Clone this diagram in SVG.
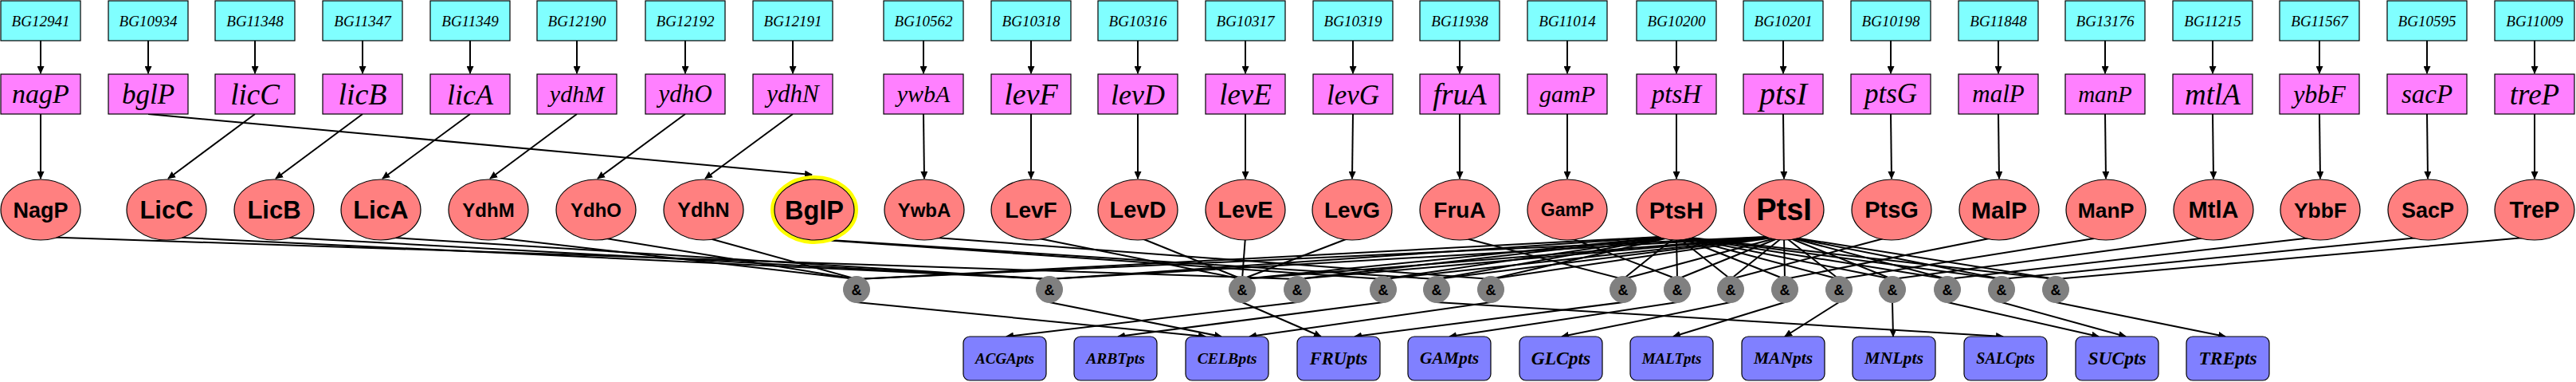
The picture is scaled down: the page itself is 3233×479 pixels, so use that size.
<svg xmlns="http://www.w3.org/2000/svg" width="3233" height="479" viewBox="0 0 3233 479">
<defs>
<marker id="ah" viewBox="0 0 10 9" refX="9" refY="4.5" markerWidth="10" markerHeight="9" markerUnits="userSpaceOnUse" orient="auto"><path d="M0,0 L10,4.5 L0,9 z" fill="#000"/></marker>
</defs>
<style>
.bg{fill:#80ffff;stroke:#000;stroke-width:1.2}
.gn{fill:#ff80ff;stroke:#000;stroke-width:1.2}
.pr{fill:#ff8080;stroke:#000;stroke-width:1.2}
.and{fill:#808080;stroke:#808080;stroke-width:1}
.pw{fill:#8080ff;stroke:#000;stroke-width:1.2}
.tbg{font-family:"Liberation Serif",serif;font-style:italic;font-size:19px;text-anchor:middle;fill:#000}
.tgn{font-family:"Liberation Serif",serif;font-style:italic;text-anchor:middle;fill:#000}
.tpr{font-family:"Liberation Sans",sans-serif;font-weight:bold;text-anchor:middle;fill:#000}
.tand{font-family:"Liberation Sans",sans-serif;font-weight:bold;font-size:18px;text-anchor:middle;fill:#000}
.tpw{font-family:"Liberation Serif",serif;font-style:italic;font-weight:bold;text-anchor:middle;fill:#000}
#connectors line{stroke:#000;stroke-width:2;fill:none}
#connectors .a{marker-end:url(#ah)}
</style>
<rect width="3233" height="479" fill="#fff"/>
<g id="connectors">
<!-- BG to gene -->
<line class="a" x1="51" y1="51" x2="51" y2="92"/>
<line class="a" x1="186" y1="51" x2="186" y2="92"/>
<line class="a" x1="320" y1="51" x2="320" y2="92"/>
<line class="a" x1="455" y1="51" x2="455" y2="92"/>
<line class="a" x1="590" y1="51" x2="590" y2="92"/>
<line class="a" x1="724" y1="51" x2="724" y2="92"/>
<line class="a" x1="860" y1="51" x2="860" y2="92"/>
<line class="a" x1="995" y1="51" x2="995" y2="92"/>
<line class="a" x1="1159" y1="51" x2="1159" y2="92"/>
<line class="a" x1="1294" y1="51" x2="1294" y2="92"/>
<line class="a" x1="1428" y1="51" x2="1428" y2="92"/>
<line class="a" x1="1563" y1="51" x2="1563" y2="92"/>
<line class="a" x1="1698" y1="51" x2="1698" y2="92"/>
<line class="a" x1="1832" y1="51" x2="1832" y2="92"/>
<line class="a" x1="1967" y1="51" x2="1967" y2="92"/>
<line class="a" x1="2104" y1="51" x2="2104" y2="92"/>
<line class="a" x1="2238" y1="51" x2="2238" y2="92"/>
<line class="a" x1="2373" y1="51" x2="2373" y2="92"/>
<line class="a" x1="2508" y1="51" x2="2508" y2="92"/>
<line class="a" x1="2642" y1="51" x2="2642" y2="92"/>
<line class="a" x1="2777" y1="51" x2="2777" y2="92"/>
<line class="a" x1="2911" y1="51" x2="2911" y2="92"/>
<line class="a" x1="3046" y1="51" x2="3046" y2="92"/>
<line class="a" x1="3181" y1="51" x2="3181" y2="92"/>
<!-- gene to protein -->
<line class="a" x1="51" y1="143" x2="51" y2="224"/>
<line class="a" x1="186" y1="143" x2="1019" y2="219"/>
<line class="a" x1="320" y1="143" x2="211" y2="224"/>
<line class="a" x1="455" y1="143" x2="346" y2="224"/>
<line class="a" x1="590" y1="143" x2="480" y2="224"/>
<line class="a" x1="724" y1="143" x2="615" y2="224"/>
<line class="a" x1="860" y1="143" x2="750" y2="224"/>
<line class="a" x1="995" y1="143" x2="885" y2="224"/>
<line class="a" x1="1159" y1="143" x2="1160" y2="224"/>
<line class="a" x1="1294" y1="143" x2="1294" y2="224"/>
<line class="a" x1="1428" y1="143" x2="1428" y2="224"/>
<line class="a" x1="1563" y1="143" x2="1563" y2="224"/>
<line class="a" x1="1698" y1="143" x2="1697" y2="224"/>
<line class="a" x1="1832" y1="143" x2="1832" y2="224"/>
<line class="a" x1="1967" y1="143" x2="1967" y2="224"/>
<line class="a" x1="2104" y1="143" x2="2104" y2="224"/>
<line class="a" x1="2238" y1="143" x2="2239" y2="224"/>
<line class="a" x1="2373" y1="143" x2="2374" y2="224"/>
<line class="a" x1="2508" y1="143" x2="2509" y2="224"/>
<line class="a" x1="2642" y1="143" x2="2643" y2="224"/>
<line class="a" x1="2777" y1="143" x2="2778" y2="224"/>
<line class="a" x1="2911" y1="143" x2="2912" y2="224"/>
<line class="a" x1="3046" y1="143" x2="3047" y2="224"/>
<line class="a" x1="3181" y1="143" x2="3181" y2="224"/>
<!-- protein to & -->
<line x1="613" y1="297" x2="1075" y2="350"/>
<line x1="748" y1="297" x2="1075" y2="350"/>
<line x1="883" y1="297" x2="1075" y2="350"/>
<line x1="2083" y1="297" x2="1075" y2="350"/>
<line x1="2216" y1="297" x2="1075" y2="350"/>
<line x1="209" y1="297" x2="1317" y2="350"/>
<line x1="344" y1="297" x2="1317" y2="350"/>
<line x1="478" y1="297" x2="1317" y2="350"/>
<line x1="2088" y1="297" x2="1317" y2="350"/>
<line x1="2221" y1="297" x2="1317" y2="350"/>
<line x1="1294" y1="297" x2="1559" y2="350"/>
<line x1="1428" y1="297" x2="1559" y2="350"/>
<line x1="1563" y1="297" x2="1559" y2="350"/>
<line x1="1697" y1="297" x2="1559" y2="350"/>
<line x1="2093" y1="297" x2="1559" y2="350"/>
<line x1="2225" y1="297" x2="1559" y2="350"/>
<line x1="51" y1="297" x2="1628" y2="350"/>
<line x1="2095" y1="297" x2="1628" y2="350"/>
<line x1="2227" y1="297" x2="1628" y2="350"/>
<line x1="1020" y1="300" x2="1736" y2="350"/>
<line x1="2097" y1="297" x2="1736" y2="350"/>
<line x1="2229" y1="297" x2="1736" y2="350"/>
<line x1="1026" y1="300" x2="1803" y2="350"/>
<line x1="2098" y1="297" x2="1803" y2="350"/>
<line x1="2230" y1="297" x2="1803" y2="350"/>
<line x1="1161" y1="297" x2="1871" y2="350"/>
<line x1="2099" y1="297" x2="1871" y2="350"/>
<line x1="2232" y1="297" x2="1871" y2="350"/>
<line x1="1832" y1="297" x2="2037" y2="350"/>
<line x1="2103" y1="297" x2="2037" y2="350"/>
<line x1="2235" y1="297" x2="2037" y2="350"/>
<line x1="1967" y1="297" x2="2105" y2="350"/>
<line x1="2104" y1="297" x2="2105" y2="350"/>
<line x1="2236" y1="297" x2="2105" y2="350"/>
<line x1="2372" y1="297" x2="2172" y2="350"/>
<line x1="2105" y1="297" x2="2172" y2="350"/>
<line x1="2238" y1="297" x2="2172" y2="350"/>
<line x1="2507" y1="297" x2="2240" y2="350"/>
<line x1="2107" y1="297" x2="2240" y2="350"/>
<line x1="2239" y1="297" x2="2240" y2="350"/>
<line x1="2641" y1="297" x2="2308" y2="350"/>
<line x1="2108" y1="297" x2="2308" y2="350"/>
<line x1="2240" y1="297" x2="2308" y2="350"/>
<line x1="2776" y1="297" x2="2375" y2="350"/>
<line x1="2109" y1="297" x2="2375" y2="350"/>
<line x1="2242" y1="297" x2="2375" y2="350"/>
<line x1="2910" y1="297" x2="2444" y2="350"/>
<line x1="2111" y1="297" x2="2444" y2="350"/>
<line x1="2243" y1="297" x2="2444" y2="350"/>
<line x1="3045" y1="297" x2="2512" y2="350"/>
<line x1="2112" y1="297" x2="2512" y2="350"/>
<line x1="2244" y1="297" x2="2512" y2="350"/>
<line x1="3179" y1="297" x2="2580" y2="350"/>
<line x1="2113" y1="297" x2="2580" y2="350"/>
<line x1="2246" y1="297" x2="2580" y2="350"/>
<!-- & to pathway -->
<line class="a" x1="1075" y1="379" x2="1513" y2="422"/>
<line class="a" x1="1317" y1="379" x2="1533" y2="422"/>
<line class="a" x1="1559" y1="379" x2="1658" y2="422"/>
<line class="a" x1="1628" y1="379" x2="1263" y2="422"/>
<line class="a" x1="1736" y1="379" x2="1403" y2="422"/>
<line class="a" x1="1803" y1="379" x2="2514" y2="422"/>
<line class="a" x1="1871" y1="379" x2="1568" y2="422"/>
<line class="a" x1="2037" y1="379" x2="1700" y2="422"/>
<line class="a" x1="2105" y1="379" x2="1819" y2="422"/>
<line class="a" x1="2172" y1="379" x2="1960" y2="422"/>
<line class="a" x1="2240" y1="379" x2="2100" y2="422"/>
<line class="a" x1="2308" y1="379" x2="2240" y2="422"/>
<line class="a" x1="2375" y1="379" x2="2376" y2="422"/>
<line class="a" x1="2444" y1="379" x2="2634" y2="422"/>
<line class="a" x1="2512" y1="379" x2="2668" y2="422"/>
<line class="a" x1="2580" y1="379" x2="2793" y2="422"/>
</g>
<!-- BG nodes -->
<g id="BG12941"><rect class="bg" x="1" y="1" width="100" height="50"/><text class="tbg" x="51" y="32.5">BG12941</text></g>
<g id="BG10934"><rect class="bg" x="136" y="1" width="100" height="50"/><text class="tbg" x="186" y="32.5">BG10934</text></g>
<g id="BG11348"><rect class="bg" x="270" y="1" width="100" height="50"/><text class="tbg" x="320" y="32.5">BG11348</text></g>
<g id="BG11347"><rect class="bg" x="405" y="1" width="100" height="50"/><text class="tbg" x="455" y="32.5">BG11347</text></g>
<g id="BG11349"><rect class="bg" x="540" y="1" width="100" height="50"/><text class="tbg" x="590" y="32.5">BG11349</text></g>
<g id="BG12190"><rect class="bg" x="674" y="1" width="100" height="50"/><text class="tbg" x="724" y="32.5">BG12190</text></g>
<g id="BG12192"><rect class="bg" x="810" y="1" width="100" height="50"/><text class="tbg" x="860" y="32.5">BG12192</text></g>
<g id="BG12191"><rect class="bg" x="945" y="1" width="100" height="50"/><text class="tbg" x="995" y="32.5">BG12191</text></g>
<g id="BG10562"><rect class="bg" x="1109" y="1" width="100" height="50"/><text class="tbg" x="1159" y="32.5">BG10562</text></g>
<g id="BG10318"><rect class="bg" x="1244" y="1" width="100" height="50"/><text class="tbg" x="1294" y="32.5">BG10318</text></g>
<g id="BG10316"><rect class="bg" x="1378" y="1" width="100" height="50"/><text class="tbg" x="1428" y="32.5">BG10316</text></g>
<g id="BG10317"><rect class="bg" x="1513" y="1" width="100" height="50"/><text class="tbg" x="1563" y="32.5">BG10317</text></g>
<g id="BG10319"><rect class="bg" x="1648" y="1" width="100" height="50"/><text class="tbg" x="1698" y="32.5">BG10319</text></g>
<g id="BG11938"><rect class="bg" x="1782" y="1" width="100" height="50"/><text class="tbg" x="1832" y="32.5">BG11938</text></g>
<g id="BG11014"><rect class="bg" x="1917" y="1" width="100" height="50"/><text class="tbg" x="1967" y="32.5">BG11014</text></g>
<g id="BG10200"><rect class="bg" x="2054" y="1" width="100" height="50"/><text class="tbg" x="2104" y="32.5">BG10200</text></g>
<g id="BG10201"><rect class="bg" x="2188" y="1" width="100" height="50"/><text class="tbg" x="2238" y="32.5">BG10201</text></g>
<g id="BG10198"><rect class="bg" x="2323" y="1" width="100" height="50"/><text class="tbg" x="2373" y="32.5">BG10198</text></g>
<g id="BG11848"><rect class="bg" x="2458" y="1" width="100" height="50"/><text class="tbg" x="2508" y="32.5">BG11848</text></g>
<g id="BG13176"><rect class="bg" x="2592" y="1" width="100" height="50"/><text class="tbg" x="2642" y="32.5">BG13176</text></g>
<g id="BG11215"><rect class="bg" x="2727" y="1" width="100" height="50"/><text class="tbg" x="2777" y="32.5">BG11215</text></g>
<g id="BG11567"><rect class="bg" x="2861" y="1" width="100" height="50"/><text class="tbg" x="2911" y="32.5">BG11567</text></g>
<g id="BG10595"><rect class="bg" x="2996" y="1" width="100" height="50"/><text class="tbg" x="3046" y="32.5">BG10595</text></g>
<g id="BG11009"><rect class="bg" x="3131" y="1" width="100" height="50"/><text class="tbg" x="3181" y="32.5">BG11009</text></g>
<!-- gene nodes -->
<g id="nagP"><rect class="gn" x="1" y="93" width="100" height="50"/><text class="tgn" x="51" y="129" font-size="34">nagP</text></g>
<g id="bglP"><rect class="gn" x="136" y="93" width="100" height="50"/><text class="tgn" x="186" y="129.5" font-size="35">bglP</text></g>
<g id="licC"><rect class="gn" x="270" y="93" width="100" height="50"/><text class="tgn" x="320" y="130.5" font-size="37">licC</text></g>
<g id="licB"><rect class="gn" x="405" y="93" width="100" height="50"/><text class="tgn" x="455" y="130.5" font-size="38">licB</text></g>
<g id="licA"><rect class="gn" x="540" y="93" width="100" height="50"/><text class="tgn" x="590" y="130.5" font-size="36">licA</text></g>
<g id="ydhM"><rect class="gn" x="674" y="93" width="100" height="50"/><text class="tgn" x="724" y="127.5" font-size="30">ydhM</text></g>
<g id="ydhO"><rect class="gn" x="810" y="93" width="100" height="50"/><text class="tgn" x="860" y="127.5" font-size="31">ydhO</text></g>
<g id="ydhN"><rect class="gn" x="945" y="93" width="100" height="50"/><text class="tgn" x="995" y="127.5" font-size="31">ydhN</text></g>
<g id="ywbA"><rect class="gn" x="1109" y="93" width="100" height="50"/><text class="tgn" x="1159" y="127.5" font-size="30">ywbA</text></g>
<g id="levF"><rect class="gn" x="1244" y="93" width="100" height="50"/><text class="tgn" x="1294" y="130.5" font-size="38">levF</text></g>
<g id="levD"><rect class="gn" x="1378" y="93" width="100" height="50"/><text class="tgn" x="1428" y="130.5" font-size="36">levD</text></g>
<g id="levE"><rect class="gn" x="1513" y="93" width="100" height="50"/><text class="tgn" x="1563" y="130.5" font-size="37">levE</text></g>
<g id="levG"><rect class="gn" x="1648" y="93" width="100" height="50"/><text class="tgn" x="1698" y="130.5" font-size="35">levG</text></g>
<g id="fruA"><rect class="gn" x="1782" y="93" width="100" height="50"/><text class="tgn" x="1832" y="130.5" font-size="38">fruA</text></g>
<g id="gamP"><rect class="gn" x="1917" y="93" width="100" height="50"/><text class="tgn" x="1967" y="127.5" font-size="30">gamP</text></g>
<g id="ptsH"><rect class="gn" x="2054" y="93" width="100" height="50"/><text class="tgn" x="2104" y="128.5" font-size="33">ptsH</text></g>
<g id="ptsI"><rect class="gn" x="2188" y="93" width="100" height="50"/><text class="tgn" x="2238" y="131" font-size="40">ptsI</text></g>
<g id="ptsG"><rect class="gn" x="2323" y="93" width="100" height="50"/><text class="tgn" x="2373" y="129" font-size="35">ptsG</text></g>
<g id="malP"><rect class="gn" x="2458" y="93" width="100" height="50"/><text class="tgn" x="2508" y="128" font-size="31">malP</text></g>
<g id="manP"><rect class="gn" x="2592" y="93" width="100" height="50"/><text class="tgn" x="2642" y="127.5" font-size="29">manP</text></g>
<g id="mtlA"><rect class="gn" x="2727" y="93" width="100" height="50"/><text class="tgn" x="2777" y="130.5" font-size="37">mtlA</text></g>
<g id="ybbF"><rect class="gn" x="2861" y="93" width="100" height="50"/><text class="tgn" x="2911" y="128.5" font-size="32">ybbF</text></g>
<g id="sacP"><rect class="gn" x="2996" y="93" width="100" height="50"/><text class="tgn" x="3046" y="129" font-size="33">sacP</text></g>
<g id="treP"><rect class="gn" x="3131" y="93" width="100" height="50"/><text class="tgn" x="3181" y="130.5" font-size="37">treP</text></g>
<!-- protein nodes -->
<g id="NagP"><ellipse class="pr" cx="51" cy="263" rx="50" ry="38"/><text class="tpr" x="51" y="272.5" font-size="27">NagP</text></g>
<g id="LicC"><ellipse class="pr" cx="209" cy="263" rx="50" ry="38"/><text class="tpr" x="209" y="274" font-size="31">LicC</text></g>
<g id="LicB"><ellipse class="pr" cx="344" cy="263" rx="50" ry="38"/><text class="tpr" x="344" y="274" font-size="31">LicB</text></g>
<g id="LicA"><ellipse class="pr" cx="478" cy="263" rx="50" ry="38"/><text class="tpr" x="478" y="274" font-size="32">LicA</text></g>
<g id="YdhM"><ellipse class="pr" cx="613" cy="263" rx="50" ry="38"/><text class="tpr" x="613" y="271.5" font-size="24">YdhM</text></g>
<g id="YdhO"><ellipse class="pr" cx="748" cy="263" rx="50" ry="38"/><text class="tpr" x="748" y="271.5" font-size="24">YdhO</text></g>
<g id="YdhN"><ellipse class="pr" cx="883" cy="263" rx="50" ry="38"/><text class="tpr" x="883" y="271.5" font-size="25">YdhN</text></g>
<g id="BglP"><ellipse cx="1022" cy="263" rx="52.5" ry="40.5" fill="none" stroke="#ffff00" stroke-width="5"/><ellipse class="pr" cx="1022" cy="263" rx="50" ry="38"/><text class="tpr" x="1022" y="274.5" font-size="32.5">BglP</text></g>
<g id="YwbA"><ellipse class="pr" cx="1160" cy="263" rx="50" ry="38"/><text class="tpr" x="1160" y="271.5" font-size="24">YwbA</text></g>
<g id="LevF"><ellipse class="pr" cx="1294" cy="263" rx="50" ry="38"/><text class="tpr" x="1294" y="273" font-size="28">LevF</text></g>
<g id="LevD"><ellipse class="pr" cx="1428" cy="263" rx="50" ry="38"/><text class="tpr" x="1428" y="273" font-size="29">LevD</text></g>
<g id="LevE"><ellipse class="pr" cx="1563" cy="263" rx="50" ry="38"/><text class="tpr" x="1563" y="273" font-size="29">LevE</text></g>
<g id="LevG"><ellipse class="pr" cx="1697" cy="263" rx="50" ry="38"/><text class="tpr" x="1697" y="273" font-size="28">LevG</text></g>
<g id="FruA"><ellipse class="pr" cx="1832" cy="263" rx="50" ry="38"/><text class="tpr" x="1832" y="273" font-size="28">FruA</text></g>
<g id="GamP"><ellipse class="pr" cx="1967" cy="263" rx="50" ry="38"/><text class="tpr" x="1967" y="271" font-size="23">GamP</text></g>
<g id="PtsH"><ellipse class="pr" cx="2104" cy="263" rx="50" ry="38"/><text class="tpr" x="2104" y="273.5" font-size="30">PtsH</text></g>
<g id="PtsI"><ellipse class="pr" cx="2239" cy="263" rx="50" ry="38"/><text class="tpr" x="2239" y="276" font-size="38">PtsI</text></g>
<g id="PtsG"><ellipse class="pr" cx="2374" cy="263" rx="50" ry="38"/><text class="tpr" x="2374" y="273" font-size="29">PtsG</text></g>
<g id="MalP"><ellipse class="pr" cx="2509" cy="263" rx="50" ry="38"/><text class="tpr" x="2509" y="273.5" font-size="30">MalP</text></g>
<g id="ManP"><ellipse class="pr" cx="2643" cy="263" rx="50" ry="38"/><text class="tpr" x="2643" y="272.5" font-size="26.5">ManP</text></g>
<g id="MtlA"><ellipse class="pr" cx="2778" cy="263" rx="50" ry="38"/><text class="tpr" x="2778" y="273" font-size="29">MtlA</text></g>
<g id="YbbF"><ellipse class="pr" cx="2912" cy="263" rx="50" ry="38"/><text class="tpr" x="2912" y="272.5" font-size="26.5">YbbF</text></g>
<g id="SacP"><ellipse class="pr" cx="3047" cy="263" rx="50" ry="38"/><text class="tpr" x="3047" y="272.5" font-size="27">SacP</text></g>
<g id="TreP"><ellipse class="pr" cx="3181" cy="263" rx="50" ry="38"/><text class="tpr" x="3181" y="273" font-size="29">TreP</text></g>
<!-- & nodes -->
<g id="and1"><circle class="and" cx="1075" cy="363" r="16.5"/><text class="tand" x="1075" y="369.5">&amp;</text></g>
<g id="and2"><circle class="and" cx="1317" cy="363" r="16.5"/><text class="tand" x="1317" y="369.5">&amp;</text></g>
<g id="and3"><circle class="and" cx="1559" cy="363" r="16.5"/><text class="tand" x="1559" y="369.5">&amp;</text></g>
<g id="and4"><circle class="and" cx="1628" cy="363" r="16.5"/><text class="tand" x="1628" y="369.5">&amp;</text></g>
<g id="and5"><circle class="and" cx="1736" cy="363" r="16.5"/><text class="tand" x="1736" y="369.5">&amp;</text></g>
<g id="and6"><circle class="and" cx="1803" cy="363" r="16.5"/><text class="tand" x="1803" y="369.5">&amp;</text></g>
<g id="and7"><circle class="and" cx="1871" cy="363" r="16.5"/><text class="tand" x="1871" y="369.5">&amp;</text></g>
<g id="and8"><circle class="and" cx="2037" cy="363" r="16.5"/><text class="tand" x="2037" y="369.5">&amp;</text></g>
<g id="and9"><circle class="and" cx="2105" cy="363" r="16.5"/><text class="tand" x="2105" y="369.5">&amp;</text></g>
<g id="and10"><circle class="and" cx="2172" cy="363" r="16.5"/><text class="tand" x="2172" y="369.5">&amp;</text></g>
<g id="and11"><circle class="and" cx="2240" cy="363" r="16.5"/><text class="tand" x="2240" y="369.5">&amp;</text></g>
<g id="and12"><circle class="and" cx="2308" cy="363" r="16.5"/><text class="tand" x="2308" y="369.5">&amp;</text></g>
<g id="and13"><circle class="and" cx="2375" cy="363" r="16.5"/><text class="tand" x="2375" y="369.5">&amp;</text></g>
<g id="and14"><circle class="and" cx="2444" cy="363" r="16.5"/><text class="tand" x="2444" y="369.5">&amp;</text></g>
<g id="and15"><circle class="and" cx="2512" cy="363" r="16.5"/><text class="tand" x="2512" y="369.5">&amp;</text></g>
<g id="and16"><circle class="and" cx="2580" cy="363" r="16.5"/><text class="tand" x="2580" y="369.5">&amp;</text></g>
<!-- pathway nodes -->
<g id="ACGApts"><rect class="pw" x="1209" y="422" width="104" height="55" rx="8"/><text class="tpw" x="1261" y="455.5" font-size="19">ACGApts</text></g>
<g id="ARBTpts"><rect class="pw" x="1348" y="422" width="104" height="55" rx="8"/><text class="tpw" x="1400" y="455.5" font-size="19.5">ARBTpts</text></g>
<g id="CELBpts"><rect class="pw" x="1488" y="422" width="104" height="55" rx="8"/><text class="tpw" x="1540" y="455.5" font-size="19.8">CELBpts</text></g>
<g id="FRUpts"><rect class="pw" x="1628" y="422" width="104" height="55" rx="8"/><text class="tpw" x="1680" y="456.5" font-size="22.5">FRUpts</text></g>
<g id="GAMpts"><rect class="pw" x="1767" y="422" width="104" height="55" rx="8"/><text class="tpw" x="1819" y="456" font-size="21.5">GAMpts</text></g>
<g id="GLCpts"><rect class="pw" x="1907" y="422" width="104" height="55" rx="8"/><text class="tpw" x="1959" y="456.5" font-size="23.5">GLCpts</text></g>
<g id="MALTpts"><rect class="pw" x="2046" y="422" width="104" height="55" rx="8"/><text class="tpw" x="2098" y="455.5" font-size="19">MALTpts</text></g>
<g id="MANpts"><rect class="pw" x="2186" y="422" width="104" height="55" rx="8"/><text class="tpw" x="2238" y="456" font-size="21.5">MANpts</text></g>
<g id="MNLpts"><rect class="pw" x="2325" y="422" width="104" height="55" rx="8"/><text class="tpw" x="2377" y="456" font-size="21.8">MNLpts</text></g>
<g id="SALCpts"><rect class="pw" x="2465" y="422" width="104" height="55" rx="8"/><text class="tpw" x="2517" y="455.5" font-size="20">SALCpts</text></g>
<g id="SUCpts"><rect class="pw" x="2605" y="422" width="104" height="55" rx="8"/><text class="tpw" x="2657" y="456.5" font-size="23.5">SUCpts</text></g>
<g id="TREpts"><rect class="pw" x="2744" y="422" width="104" height="55" rx="8"/><text class="tpw" x="2796" y="456.5" font-size="23.5">TREpts</text></g>
</svg>
